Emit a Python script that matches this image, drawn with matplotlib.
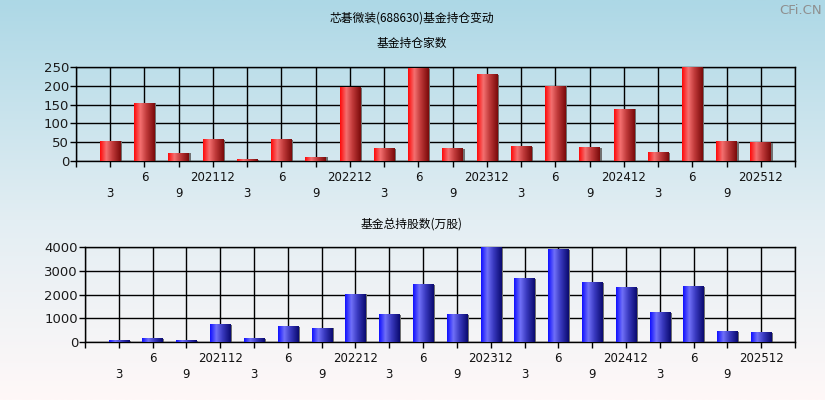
import matplotlib.pyplot as plt
import numpy as np
from matplotlib.colors import LinearSegmentedColormap

plt.rcParams['font.family'] = ['Noto Sans CJK SC', 'DejaVu Sans']

# quarters shown (report periods)
quarters = ['202103', '202106', '202109', '202112',
            '202203', '202206', '202209', '202212',
            '202303', '202306', '202309', '202312',
            '202403', '202406', '202409', '202412',
            '202503', '202506', '202509', '202512']
# number of funds holding
fund_count = [53, 153, 21, 56, 3, 56, 10, 195, 32, 245, 32, 230,
              38, 199, 35, 138, 22, 250, 51, 49]
# total shares held by funds (10k shares)
fund_shares = [50, 140, 50, 730, 140, 640, 575, 2005, 1150, 2410, 1150, 4000,
               2665, 3890, 2495, 2285, 1235, 2330, 435, 395]

top_ticks = [0, 50, 100, 150, 200, 250]
bottom_ticks = [0, 1000, 2000, 3000, 4000]

W, H = 825, 400
fig = plt.figure(figsize=(W / 100, H / 100), dpi=100)

# background gradient
bg = fig.add_axes([0, 0, 1, 1], zorder=-10)
bg_cmap = LinearSegmentedColormap.from_list('bg', [(0, '#add8e6'), (0.55, '#e3eef3'), (1, '#fff8f8')])
bg.imshow(np.linspace(0, 1, 256).reshape(-1, 1), aspect='auto', cmap=bg_cmap, extent=[0, 1, 0, 1])
bg.set_axis_off()

red_cmap = LinearSegmentedColormap.from_list(
    'red', [(0, '#ff0a0a'), (0.3, '#f47070'), (0.6, '#c03a3a'), (1, '#7a0a0a')])
blue_cmap = LinearSegmentedColormap.from_list(
    'blue', [(0, '#1010ff'), (0.3, '#7070f8'), (0.6, '#3a3ac0'), (1, '#0a0a70')])

x_labels = []
for q in quarters:
    m = q[4:]
    if m == '12':
        x_labels.append(q)
    elif m in ('03', '09'):
        x_labels.append('\n' + str(int(m)))
    else:
        x_labels.append(str(int(m)))


def draw_panel(rect, values, yticks, cmap):
    ax = fig.add_axes(rect)
    ax.set_facecolor('none')
    n = len(values)
    xs = np.arange(1, n + 1)
    ymax = yticks[-1]
    bw = 0.6
    grad = np.linspace(0, 1, 64).reshape(1, -1)
    for x, v in zip(xs, values):
        ax.bar(x + 0.05, v, width=bw, color='#707070', zorder=2)
        ax.imshow(grad, cmap=cmap, aspect='auto', zorder=3,
                  extent=[x - bw / 2, x + bw / 2, 0, v])
    ax.set_xlim(0, n + 1)
    ax.set_ylim(0, ymax)
    ax.set_xticks(np.arange(0, n + 2))
    ax.set_xticklabels([''] + x_labels + [''], fontsize=8.5, linespacing=1.35,
                       family='DejaVu Sans', color='#111')
    ax.set_yticks(yticks)
    ax.set_yticklabels([str(t) for t in yticks], fontsize=9.5,
                       family='DejaVu Sans', color='#1a1a1a')
    ax.grid(True, color='black', linewidth=1.0, zorder=1)
    ax.set_axisbelow(True)
    for s in ax.spines.values():
        s.set_color('black')
        s.set_linewidth(1.0)
    ax.tick_params(axis='x', length=4, width=1, pad=3)
    ax.tick_params(axis='y', length=4, width=1, pad=1)
    return ax


draw_panel([76 / W, 1 - 161 / H, (795 - 76) / W, (161 - 67) / H],
           fund_count, top_ticks, red_cmap)
draw_panel([85 / W, 1 - 342 / H, (795 - 85) / W, (342 - 247) / H],
           fund_shares, bottom_ticks, blue_cmap)

fig.text(412 / W, 1 - 18 / H, '芯碁微装(688630)基金持仓变动', ha='center', va='center', fontsize=8.5)
fig.text(412 / W, 1 - 43 / H, '基金持仓家数', ha='center', va='center', fontsize=8.5)
fig.text(412 / W, 1 - 224 / H, '基金总持股数(万股)', ha='center', va='center', fontsize=8.5)
fig.text(822 / W, 1 - 10 / H, 'CFi.CN', ha='right', va='center', fontsize=9.5,
         color='#8f8f8f', family='DejaVu Sans')

fig.savefig('out.png', dpi=100)
